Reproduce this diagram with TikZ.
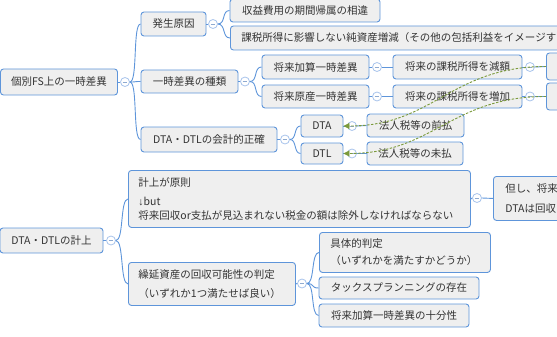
\documentclass[tikz,border=0pt]{standalone}
\usepackage{fontspec}
\setmainfont{Noto Sans CJK JP}
\newfontfamily\arrowfont{Liberation Sans}
\usetikzlibrary{arrows.meta}
\definecolor{bl}{HTML}{5E95DA}
\definecolor{cl}{HTML}{A8C4EC}
\definecolor{bg}{HTML}{EFEFEF}
\definecolor{grn}{HTML}{7B9A3C}
\definecolor{tx}{HTML}{333333}
\definecolor{mn}{HTML}{8FAAD0}
\tikzset{
  box/.style={draw=bl, fill=bg, rounded corners=3pt, line width=0.9pt, inner sep=0pt, text=tx,
    font=\fontsize{10.5pt}{14pt}\selectfont},
  mbox/.style={box, align=left, inner xsep=10pt},
  circ/.style={circle, draw=cl, fill=white, line width=0.8pt, minimum size=9pt, inner sep=0pt,
    path picture={\draw[mn, line width=0.7pt]
      ([xshift=-2.3pt]path picture bounding box.center) -- ([xshift=2.3pt]path picture bounding box.center);}},
  link/.style={draw=bl, line width=0.9pt},
  dep/.style={draw=grn, line width=0.9pt, dash pattern=on 2.5pt off 1.5pt,
    -{Triangle[length=6pt,width=6pt]}}
}
\begin{document}
\begin{tikzpicture}[x=1pt,y=-1pt]
\useasboundingbox (0,0) rectangle (557,337);

% top tree
\node[box, minimum width=117pt, minimum height=26pt] (n0) at (59,82) {個別FS上の一時差異};
\node[box, minimum width=65pt, minimum height=24pt] (n1) at (173.5,24) {発生原因};
\node[box, minimum width=150pt, minimum height=23pt] (n11) at (305,10.5) {収益費用の期間帰属の相違};
\node[box, anchor=west, text width=380pt, inner xsep=11pt, minimum height=24pt, align=left] (n12) at (230,38)
  {課税所得に影響しない純資産増減（その他の包括利益をイメージす};
\node[box, minimum width=97pt, minimum height=23pt] (n2) at (189.5,81.5) {一時差異の種類};
\node[box, minimum width=107pt, minimum height=24pt] (n21) at (315.5,67) {将来加算一時差異};
\node[box, minimum width=129pt, minimum height=24pt] (n211) at (457.5,67) {将来の課税所得を減額};
\node[box, anchor=west, minimum width=60pt, minimum height=27pt] (n2111) at (546,66.5) {};
\node[box, minimum width=107pt, minimum height=23pt] (n22) at (315.5,96.5) {将来原産一時差異};
\node[box, minimum width=129pt, minimum height=23pt] (n221) at (457.5,96.5) {将来の課税所得を増加};
\node[box, anchor=west, minimum width=60pt, minimum height=27pt] (n2211) at (546,96.5) {};
\node[box, minimum width=136pt, minimum height=25pt] (n3) at (209,139.5) {DTA・DTLの会計的正確};
\node[box, minimum width=42pt, minimum height=22pt] (n31) at (322,126) {DTA};
\node[box, minimum width=97pt, minimum height=23pt] (n311) at (415.5,125.5) {法人税等の前払};
\node[box, minimum width=42pt, minimum height=21pt] (n32) at (322,153.5) {DTL};
\node[box, minimum width=96pt, minimum height=23pt] (n321) at (415,153.5) {法人税等の未払};

% bottom tree
\node[box, minimum width=103pt, minimum height=25pt] (n4) at (51.5,240.5) {DTA・DTLの計上};
\node[mbox, anchor=north west, text width=322pt, minimum height=57pt] (n41) at (128,170)
  {計上が原則\\[5pt]{\arrowfont ↓}but\\将来回収or支払が見込まれない税金の額は除外しなければならない};
\node[mbox, anchor=north west, text width=90pt, inner xsep=12pt, minimum height=44pt] (n411) at (493,176)
  {但し、将来\\[6pt]DTAは回収};
\node[mbox, anchor=north west, text width=147pt, minimum height=43pt] (n42) at (128,262)
  {繰延資産の回収可能性の判定\\[5pt]（いずれか1つ満たせば良い）};
\node[mbox, anchor=north west, text width=149pt, inner xsep=11pt, minimum height=40pt] (n421) at (319,232)
  {具体的判定\\[3pt]（いずれかを満たすかどうか）};
\node[box, minimum width=160pt, minimum height=22pt] (n422) at (399,288) {タックスプランニングの存在};
\node[box, minimum width=150pt, minimum height=23pt] (n423) at (394,315.5) {将来加算一時差異の十分性};

% collapse circles
\node[circ] (c0) at (125,82) {};
\node[circ] (c1) at (213,24) {};
\node[circ] (c2) at (245,81.5) {};
\node[circ] (c21) at (377,67) {};
\node[circ] (c211) at (530,67) {};
\node[circ] (c22) at (377,96.5) {};
\node[circ] (c221) at (530,96.5) {};
\node[circ] (c3) at (285,139.5) {};
\node[circ] (c31) at (352,126) {};
\node[circ] (c32) at (352,153.5) {};
\node[circ] (c4) at (111,240.5) {};
\node[circ] (c41) at (477,198) {};
\node[circ] (c42) at (302,283.5) {};

% connectors
\draw[link] (n0.east) -- (c0.west);
\foreach \ch in {n1,n2,n3} \draw[link] (c0.east) .. controls +(8,0) and +(-8,0) .. (\ch.west);
\draw[link] (n1.east) -- (c1.west);
\foreach \ch in {n11,n12} \draw[link] (c1.east) .. controls +(8,0) and +(-8,0) .. (\ch.west);
\draw[link] (n2.east) -- (c2.west);
\foreach \ch in {n21,n22} \draw[link] (c2.east) .. controls +(8,0) and +(-8,0) .. (\ch.west);
\draw[link] (n21.east) -- (c21.west);
\draw[link] (c21.east) -- (n211.west);
\draw[link] (n211.east) -- (c211.west);
\draw[link] (c211.east) -- (n2111.west);
\draw[link] (n22.east) -- (c22.west);
\draw[link] (c22.east) -- (n221.west);
\draw[link] (n221.east) -- (c221.west);
\draw[link] (c221.east) -- (n2211.west);
\draw[link] (n3.east) -- (c3.west);
\foreach \ch in {n31,n32} \draw[link] (c3.east) .. controls +(7,0) and +(-7,0) .. (\ch.west);
\draw[link] (n31.east) -- (c31.west);
\draw[link] (c31.east) -- (n311.west);
\draw[link] (n32.east) -- (c32.west);
\draw[link] (c32.east) -- (n321.west);

\draw[link] (n4.east) -- (c4.west);
\foreach \ch in {n41,n42} \draw[link] (c4.east) .. controls +(8,0) and +(-8,0) .. (\ch.west);
\draw[link] (n41.east) -- (c41.west);
\draw[link] (c41.east) -- (n411.west);
\draw[link] (n42.east) -- (c42.west);
\foreach \ch in {n421,n422,n423} \draw[link] (c42.east) .. controls +(8,0) and +(-8,0) .. (\ch.west);

% dependency arrows
\draw[dep] (n2111.west) .. controls +(-95,0) and +(90,0) .. (n31.east);
\draw[dep] (n2211.west) .. controls +(-95,0) and +(90,0) .. (n32.east);
\end{tikzpicture}
\end{document}
